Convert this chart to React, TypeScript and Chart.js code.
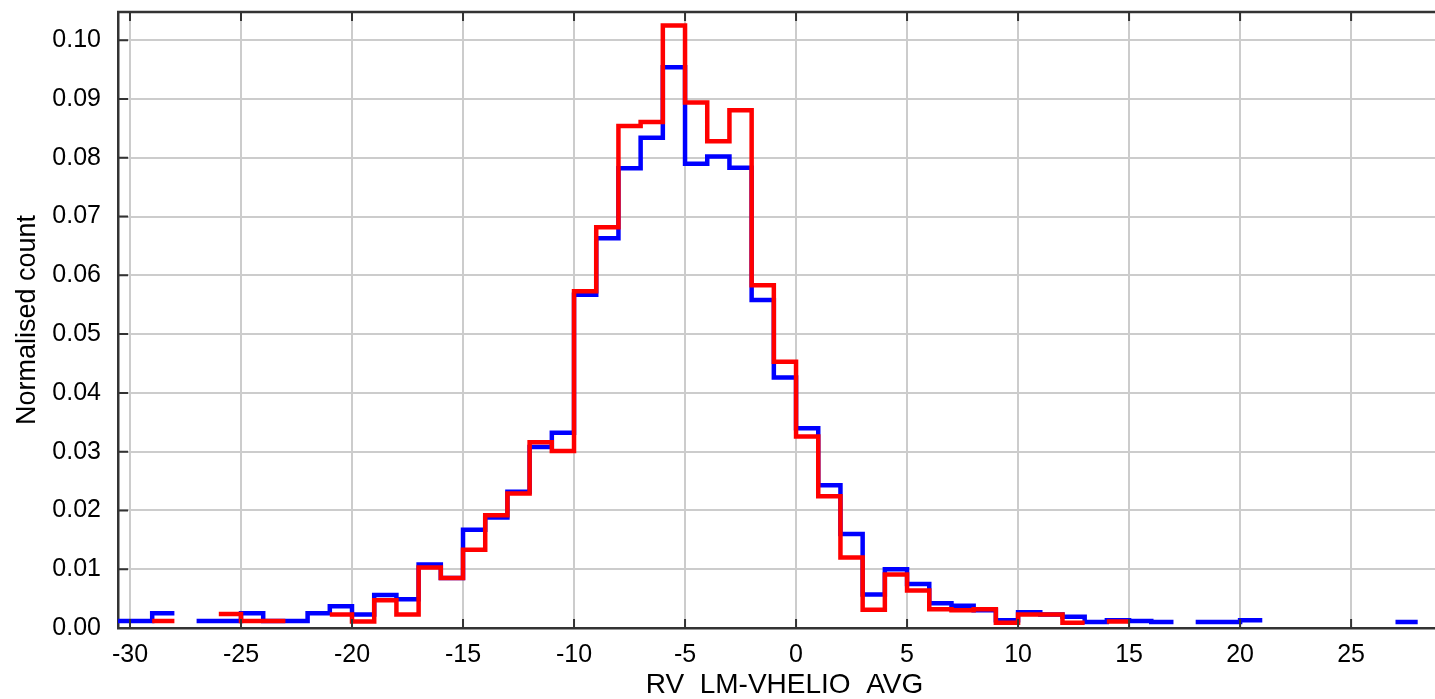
import React, { useEffect, useRef } from 'react';
import { Chart, registerables } from 'chart.js';

Chart.register(...registerables);

// Left edges of the 1-unit bins (RV_LM-VHELIO_AVG)
const binStarts = [
  -31, -30, -29, -28, -27, -26, -25, -24, -23, -22, -21, -20, -19, -18, -17, -16,
  -15, -14, -13, -12, -11, -10, -9, -8, -7, -6, -5, -4, -3, -2, -1, 0,
  1, 2, 3, 4, 5, 6, 7, 8, 9, 10, 11, 12, 13, 14, 15, 16,
  17, 18, 19, 20, 21, 22, 23, 24, 25, 26, 27,
];

// Normalised counts, blue sample (null = empty bin)
const blueCounts: (number | null)[] = [
  0.0012, 0.0012, 0.0025, null, 0.0012, 0.0012, 0.0025, 0.0012, 0.0012, 0.0025, 0.0037, 0.0023, 0.0056, 0.0049, 0.0108, 0.0085,
  0.0167, 0.0188, 0.0232, 0.0308, 0.0332, 0.0567, 0.0663, 0.0782, 0.0834, 0.0954, 0.0790, 0.0802, 0.0783, 0.0558, 0.0426, 0.0340,
  0.0243, 0.0160, 0.0057, 0.0100, 0.0075, 0.0042, 0.0038, 0.0030, 0.0013, 0.0027, 0.0023, 0.0019, 0.0010, 0.0013, 0.0012, 0.0010,
  null, 0.0010, 0.0010, 0.0013, null, null, null, null, null, null, 0.0010,
];

// Normalised counts, red sample (null = empty bin)
const redCounts: (number | null)[] = [
  null, null, 0.0012, null, null, 0.0024, 0.0012, 0.0012, null, null, 0.0023, 0.0011, 0.0047, 0.0023, 0.0103, 0.0085,
  0.0133, 0.0192, 0.0229, 0.0316, 0.0301, 0.0573, 0.0682, 0.0854, 0.0861, 0.1025, 0.0894, 0.0828, 0.0881, 0.0583, 0.0453, 0.0326,
  0.0224, 0.0120, 0.0031, 0.0091, 0.0064, 0.0032, 0.0030, 0.0032, 0.0009, 0.0023, 0.0023, 0.0009, null, 0.0011, null, null,
  null, null, null, null, null, null, null, null, null, null, null,
];

const xTickLabels = ['-30', '-25', '-20', '-15', '-10', '-5', '0', '5', '10', '15', '20', '25'];
const yTickLabels = ['0.00', '0.01', '0.02', '0.03', '0.04', '0.05', '0.06', '0.07', '0.08', '0.09', '0.10'];

const X_MIN = -30.54;
const X_MAX = 29.5;
const Y_MIN = 0;
const Y_MAX = 0.1048;

function stepPoints(values: (number | null)[]) {
  const pts: { x: number; y: number | null }[] = [];
  values.forEach((v, i) => {
    const left = binStarts[i];
    if (v === null) {
      pts.push({ x: left + 0.5, y: null });
    } else {
      pts.push({ x: left, y: v });
      pts.push({ x: left + 1, y: v });
    }
  });
  return pts;
}

const framePlugin = {
  id: 'frame',
  afterDraw(chart: any) {
    const { ctx, chartArea: a, scales } = chart;
    const x = scales.x;
    const y = scales.y;
    ctx.save();
    ctx.strokeStyle = '#333333';
    ctx.lineWidth = 2;
    ctx.beginPath();
    x.ticks.forEach((t: any) => {
      const px = x.getPixelForValue(t.value);
      ctx.moveTo(px, a.bottom);
      ctx.lineTo(px, a.bottom - 9);
      ctx.moveTo(px, a.top);
      ctx.lineTo(px, a.top + 9);
    });
    y.ticks.forEach((t: any) => {
      const py = y.getPixelForValue(t.value);
      ctx.moveTo(a.left, py);
      ctx.lineTo(a.left + 10, py);
    });
    ctx.stroke();
    ctx.lineWidth = 2.5;
    ctx.beginPath();
    ctx.moveTo(a.left - 1, a.top);
    ctx.lineTo(a.right, a.top);
    ctx.lineTo(a.right, a.bottom);
    ctx.stroke();
    ctx.restore();
  },
};

export default function App() {
  const canvasRef = useRef<HTMLCanvasElement | null>(null);

  useEffect(() => {
    if (!canvasRef.current) return;
    const font = 'Liberation Sans';
    const chart = new Chart(canvasRef.current, {
      type: 'line',
      data: {
        datasets: [
          {
            label: 'red',
            data: stepPoints(redCounts) as any,
            borderColor: '#ff0000',
            borderWidth: 4.5,
            pointRadius: 0,
            borderJoinStyle: 'miter',
            borderCapStyle: 'butt',
            spanGaps: false,
            tension: 0,
            order: 1,
          },
          {
            label: 'blue',
            data: stepPoints(blueCounts) as any,
            borderColor: '#0000ff',
            borderWidth: 4.5,
            pointRadius: 0,
            borderJoinStyle: 'miter',
            borderCapStyle: 'butt',
            spanGaps: false,
            tension: 0,
            order: 2,
          },
        ],
      },
      options: {
        animation: false,
        responsive: false,
        devicePixelRatio: 1,
        layout: { padding: { top: 12, right: 9, left: 0, bottom: 0 } },
        plugins: {
          legend: { display: false },
          tooltip: { enabled: false },
        },
        scales: {
          x: {
            type: 'linear',
            min: X_MIN,
            max: X_MAX,
            afterBuildTicks: (s: any) => {
              s.ticks = xTickLabels.map((l) => ({ value: Number(l) }));
            },
            afterFit: (s: any) => {
              s.height = 71;
              s.paddingLeft = 0;
              s.paddingRight = 0;
            },
            ticks: {
              color: '#000',
              font: { family: font, size: 25 },
              padding: 12,
              maxRotation: 0,
              autoSkip: false,
              callback: (v: any) => {
                const idx = xTickLabels.findIndex((l) => Number(l) === Number(v));
                return idx >= 0 ? xTickLabels[idx] : '';
              },
            },
            grid: { color: '#cccccc', lineWidth: 2, drawTicks: false },
            border: { color: '#333333', width: 2.5 },
            title: {
              display: true,
              text: 'RV_LM-VHELIO_AVG',
              color: '#000',
              font: { family: font, size: 28, lineHeight: 1 },
              padding: { top: 0, bottom: 0 },
            },
          },
          y: {
            type: 'linear',
            min: Y_MIN,
            max: Y_MAX,
            afterBuildTicks: (s: any) => {
              s.ticks = yTickLabels.map((l) => ({ value: Number(l) }));
            },
            afterFit: (s: any) => {
              s.width = 118;
              s.paddingTop = 0;
              s.paddingBottom = 0;
            },
            ticks: {
              color: '#000',
              font: { family: font, size: 25 },
              padding: 17,
              autoSkip: false,
              callback: (v: any) => {
                const idx = yTickLabels.findIndex((l) => Math.abs(Number(l) - Number(v)) < 1e-9);
                return idx >= 0 ? yTickLabels[idx] : '';
              },
            },
            grid: { color: '#cccccc', lineWidth: 2, drawTicks: false },
            border: { color: '#333333', width: 2.5 },
            title: {
              display: true,
              text: 'Normalised count',
              color: '#000',
              font: { family: font, size: 27, lineHeight: 1 },
              padding: { top: 14, bottom: 0 },
            },
          },
        },
      },
      plugins: [framePlugin],
    });
    return () => chart.destroy();
  }, []);

  return (
    <div
      style={{
        position: 'fixed',
        left: 0,
        top: 0,
        width: 1435,
        height: 697,
        overflow: 'hidden',
        background: '#ffffff',
      }}
    >
      <canvas ref={canvasRef} width={1460} height={699} style={{ display: 'block' }} />
    </div>
  );
}
